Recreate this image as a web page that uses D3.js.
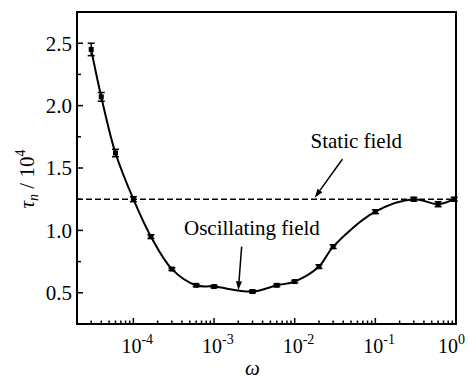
<!DOCTYPE html>
<html>
<head>
<meta charset="utf-8">
<script src="https://cdn.jsdelivr.net/npm/d3@7"></script>
<style>
  body { margin: 0; background: #fff; }
  text { font-family: "Liberation Serif", "DejaVu Serif", serif; fill: #000; }
</style>
</head>
<body>
<div class="chart"></div>
<script>
// omega values and relaxation time tau_n / 10^4
const omega = [3e-5, 4e-5, 6e-5, 1e-4, 1.65e-4, 3e-4, 6e-4, 1e-3, 3e-3, 6e-3, 1e-2, 2e-2, 3e-2, 0.1, 0.3, 0.6, 0.95];
const tau = [2.45, 2.07, 1.62, 1.25, 0.95, 0.69, 0.56, 0.55, 0.51, 0.56, 0.59, 0.71, 0.87, 1.15, 1.25, 1.21, 1.25];
const tauErr = [0.05, 0.035, 0.03, 0.02, 0.015, 0.01, 0.01, 0.01, 0.01, 0.01, 0.01, 0.015, 0.015, 0.015, 0.015, 0.02, 0.015];
const staticField = 1.25;
const yTicks = [0.5, 1.0, 1.5, 2.0, 2.5];
const xDecades = [-4, -3, -2, -1, 0];

const width = 469, height = 379;
const margin = {top: 12, right: 13, bottom: 55, left: 77};
const w = width - margin.left - margin.right;
const h = height - margin.top - margin.bottom;

const svg = d3.select(".chart").append("svg")
  .attr("width", width)
  .attr("height", height);

const g = svg.append("g")
  .attr("transform", "translate(" + margin.left + "," + margin.top + ")");

const x = d3.scaleLog().domain([2e-5, 1]).range([0, w]);
const y = d3.scaleLinear().domain([0.25, 2.75]).range([h, 0]);

// minor ticks on x: 2..9 times each decade
let xMinor = [];
for (let e = -5; e <= -1; e++) {
  for (let k = 2; k <= 9; k++) {
    const v = k * Math.pow(10, e);
    if (v >= 2e-5 && v <= 1) xMinor.push(v);
  }
}

// bottom axis (ticks pointing inwards)
const xAxis = g.append("g").attr("transform", `translate(0,${h})`);
xAxis.selectAll(".minor").data(xMinor).enter().append("line")
  .attr("x1", d => x(d)).attr("x2", d => x(d))
  .attr("y1", 0).attr("y2", -3.5)
  .attr("stroke", "#000").attr("stroke-width", 1.5);
xAxis.selectAll(".major").data(xDecades).enter().append("line")
  .attr("x1", d => x(Math.pow(10, d))).attr("x2", d => x(Math.pow(10, d)))
  .attr("y1", 0).attr("y2", -6)
  .attr("stroke", "#000").attr("stroke-width", 1.5);
const xl = xAxis.selectAll(".lab").data(xDecades).enter().append("text")
  .attr("x", d => x(Math.pow(10, d)) - (d === 0 ? 18 : 12))
  .attr("y", 29)
  .attr("text-anchor", "start")
  .style("font-size", "20px");
xl.append("tspan").text("10");
xl.append("tspan").attr("dy", -9).style("font-size", "14px").text(d => d === 0 ? "0" : "-" + (-d));

// left axis
const yMinor = d3.range(0.25, 2.76, 0.25).filter(v => Math.abs(v * 2 - Math.round(v * 2)) > 0.01);
const yAxis = g.append("g");
yAxis.selectAll(".minor").data(yMinor).enter().append("line")
  .attr("x1", 0).attr("x2", 4)
  .attr("y1", d => y(d)).attr("y2", d => y(d))
  .attr("stroke", "#000").attr("stroke-width", 1.5);
yAxis.selectAll(".major").data(yTicks).enter().append("line")
  .attr("x1", 0).attr("x2", 6)
  .attr("y1", d => y(d)).attr("y2", d => y(d))
  .attr("stroke", "#000").attr("stroke-width", 1.5);
yAxis.selectAll(".lab").data(yTicks).enter().append("text")
  .attr("x", -5)
  .attr("y", d => y(d))
  .attr("dy", "0.35em")
  .attr("text-anchor", "end")
  .style("font-size", "21px")
  .text(d => d.toFixed(1));

// frame
g.append("rect")
  .attr("width", w).attr("height", h)
  .attr("fill", "none").attr("stroke", "#000").attr("stroke-width", 2);

// static field dashed line
g.append("line")
  .attr("x1", x(2e-5)).attr("x2", x(1))
  .attr("y1", y(staticField)).attr("y2", y(staticField))
  .attr("stroke", "#000").attr("stroke-width", 1.5)
  .attr("stroke-dasharray", "6,3");

const data = omega.map((o, i) => ({w: o, v: tau[i], e: tauErr[i]}));

// curve
const line = d3.line()
  .x(d => x(d.w)).y(d => y(d.v))
  .curve(d3.curveCatmullRom.alpha(0.5));
g.append("path").datum(data)
  .attr("d", line)
  .attr("fill", "none").attr("stroke", "#000").attr("stroke-width", 2);

// error bars
const eb = g.selectAll(".eb").data(data).enter().append("g");
eb.append("line")
  .attr("x1", d => x(d.w)).attr("x2", d => x(d.w))
  .attr("y1", d => y(d.v - d.e)).attr("y2", d => y(d.v + d.e))
  .attr("stroke", "#000").attr("stroke-width", 1.5);
eb.append("line")
  .attr("x1", d => x(d.w) - 3.5).attr("x2", d => x(d.w) + 3.5)
  .attr("y1", d => y(d.v + d.e)).attr("y2", d => y(d.v + d.e))
  .attr("stroke", "#000").attr("stroke-width", 1.5);
eb.append("line")
  .attr("x1", d => x(d.w) - 3.5).attr("x2", d => x(d.w) + 3.5)
  .attr("y1", d => y(d.v - d.e)).attr("y2", d => y(d.v - d.e))
  .attr("stroke", "#000").attr("stroke-width", 1.5);

// markers
g.selectAll(".pt").data(data).enter().append("rect")
  .attr("x", d => x(d.w) - 2.5).attr("y", d => y(d.v) - 2.5)
  .attr("width", 5).attr("height", 5)
  .attr("fill", "#000");

// annotation arrows
function arrow(x1, y1, x2, y2) {
  const ang = Math.atan2(y2 - y1, x2 - x1);
  const L = 9, W = 3;
  const bx = x2 - L * Math.cos(ang), by = y2 - L * Math.sin(ang);
  g.append("line")
    .attr("x1", x1).attr("y1", y1).attr("x2", bx).attr("y2", by)
    .attr("stroke", "#000").attr("stroke-width", 1.5);
  g.append("path")
    .attr("d", `M${x2},${y2}L${bx + W * Math.sin(ang)},${by - W * Math.cos(ang)}L${bx - W * Math.sin(ang)},${by + W * Math.cos(ang)}Z`)
    .attr("fill", "#000");
}
arrow(x(0.039), y(1.57), x(0.0177), y(1.262));
arrow(x(2.2e-3), y(0.87), x(2.0e-3), y(0.52));

g.append("text")
  .attr("x", x(0.058)).attr("y", y(1.66))
  .attr("text-anchor", "middle")
  .style("font-size", "21px")
  .text("Static field");
g.append("text")
  .attr("x", x(2.95e-3)).attr("y", y(0.96))
  .attr("text-anchor", "middle")
  .style("font-size", "21px")
  .text("Oscillating field");

// axis titles
svg.append("text")
  .attr("x", margin.left + x(3e-3)).attr("y", 375)
  .attr("text-anchor", "middle")
  .style("font-size", "21px").style("font-style", "italic")
  .text("ω");

const yt = svg.append("text")
  .attr("transform", "translate(34,179) rotate(-90)")
  .attr("text-anchor", "middle")
  .style("font-size", "21px");
yt.append("tspan").style("font-style", "italic").text("τ");
yt.append("tspan").style("font-style", "italic").style("font-size", "14px").attr("dy", 4).text("n");
yt.append("tspan").attr("dy", -4).text(" / 10");
yt.append("tspan").style("font-size", "14px").attr("dy", -9).text("4");
</script>
</body>
</html>
